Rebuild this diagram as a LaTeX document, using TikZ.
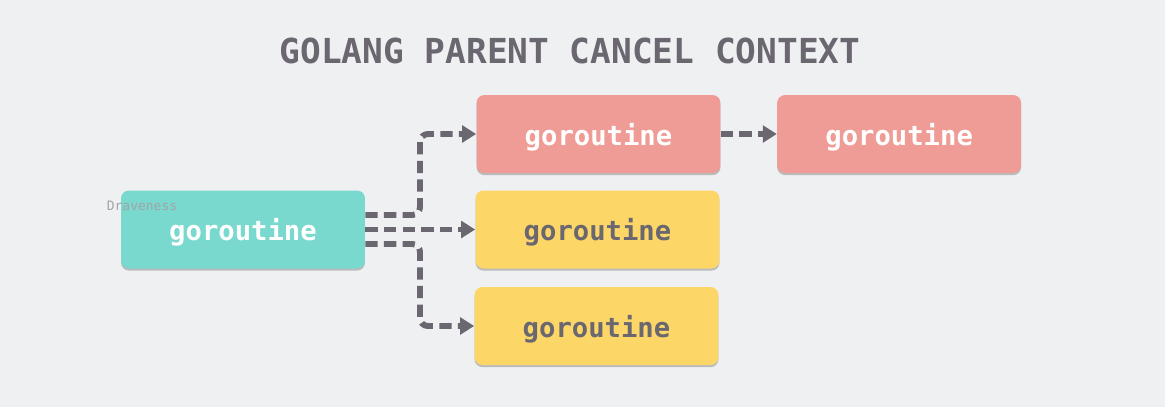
\documentclass[tikz,border=0pt]{standalone}
\usepackage{fontspec}
\setmonofont{DejaVu Sans Mono}
\usepackage{tikz}
\usetikzlibrary{positioning, arrows.meta, calc, shadows}
\definecolor{canvasgray}{HTML}{EFF0F2}
\definecolor{inkgray}{HTML}{6A6771}
\definecolor{signgray}{HTML}{A3A3A8}
\definecolor{parentteal}{HTML}{79D9CF}
\definecolor{cancelred}{HTML}{F09C96}
\definecolor{childyellow}{HTML}{FCD666}

\tikzset{
  routine/.style={rounded corners=4.5pt, minimum width=4.88cm, minimum height=1.56cm,
    inner sep=0pt, text depth=0pt, font=\ttfamily\bfseries\fontsize{15.5}{18}\selectfont,
    drop shadow={shadow xshift=0pt, shadow yshift=-1.2pt, opacity=.22, fill=black}},
  link/.style={draw=inkgray, line width=3.4pt, dash pattern=on 7pt off 3.6pt,
    rounded corners=4.5pt, -{Triangle[length=8pt, width=9.5pt]}}
}

\begin{document}
\begin{tikzpicture}[x=0.02cm, y=-0.02cm]
  \fill[canvasgray] (0,0) rectangle (1165,407);
  \useasboundingbox (0,0) rectangle (1165,407);

  \node[text=inkgray, font=\ttfamily\bfseries\fontsize{19.6}{24}\selectfont] (title) at (570,51) {GOLANG PARENT CANCEL CONTEXT};

  % parent and children
  \node[routine, fill=parentteal, text=white] (parent) at (243,229.5) {goroutine};
  \node[routine, fill=cancelred, text=white] (child) at (598.5,134) {goroutine};
  \node[routine, fill=cancelred, text=white, right=1.12cm of child] (grandchild) {goroutine};
  \node[routine, fill=childyellow, text=inkgray] (sibling) at (597.5,229.5) {goroutine};
  \node[routine, fill=childyellow, text=inkgray] (leaf) at (596.5,326) {goroutine};

  \node[text=signgray, font=\ttfamily\fontsize{7.4}{9}\selectfont] (sign) at (142,206) {Draveness};

  % connectors
  \coordinate (upout) at ($(parent.east)+(0,-14.5)$);
  \coordinate (downout) at ($(parent.east)+(0,14.5)$);
  \coordinate (bend) at (420,0);
  \draw[link] (upout) -- (upout -| bend) |- (child.west);
  \draw[link] (parent.east) -- (sibling.west);
  \draw[link] (downout) -- (downout -| bend) |- (leaf.west);
  \draw[link] (child.east) -- (grandchild.west);
\end{tikzpicture}
\end{document}
